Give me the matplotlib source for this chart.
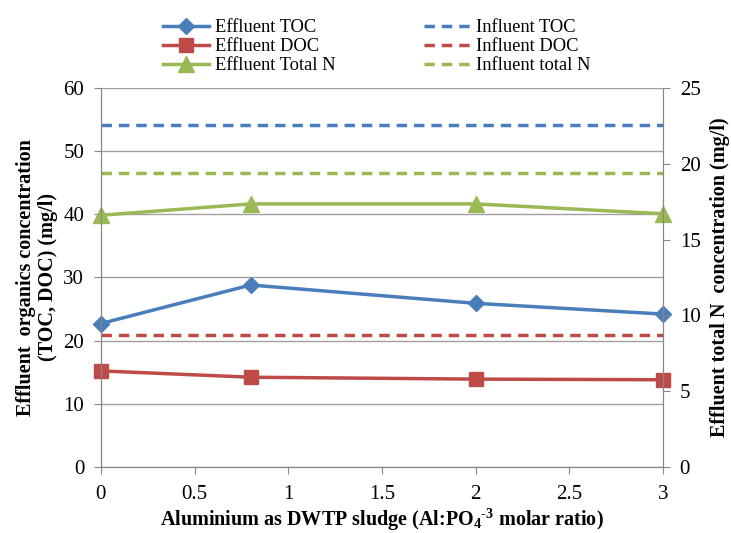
import matplotlib
matplotlib.use("Agg")
import matplotlib.pyplot as plt

# Data
ratio = [0, 0.8, 2, 3]
eff_toc = [22.7, 28.8, 25.9, 24.2]
eff_doc = [15.2, 14.2, 13.9, 13.8]
eff_tn = [16.6, 17.35, 17.35, 16.7]      # right axis
inf_toc = [54.2, 54.2, 54.2, 54.2]
inf_doc = [20.9, 20.9, 20.9, 20.9]
inf_tn = [19.4, 19.4, 19.4, 19.4]        # right axis

x_ticks = [0, 0.5, 1, 1.5, 2, 2.5, 3]
x_labels = ["0", "0.5", "1", "1.5", "2", "2.5", "3"]

blue = "#4A7EBB"
red = "#BE4B48"
green = "#98B954"
grey = "#868686"

plt.rcParams["font.family"] = ["Liberation Serif", "DejaVu Serif"]
plt.rcParams["mathtext.fontset"] = "custom"
plt.rcParams["mathtext.rm"] = "Liberation Serif:bold"
plt.rcParams["mathtext.bf"] = "Liberation Serif:bold"
plt.rcParams["mathtext.it"] = "Liberation Serif:bold"

fig = plt.figure(figsize=(7.31, 5.33), dpi=100)
ax = fig.add_axes([0.138, 0.124, 0.769, 0.711])
ax2 = ax.twinx()

h1, = ax.plot(ratio, eff_toc, color=blue, lw=2.5, marker="D", ms=8, clip_on=False, label="Effluent TOC")
h2, = ax.plot(ratio, eff_doc, color=red, lw=2.5, marker="s", ms=10, clip_on=False, label="Effluent DOC")
h3, = ax2.plot(ratio, eff_tn, color=green, lw=2.5, marker="^", ms=11, clip_on=False, label="Effluent Total N")
h4, = ax.plot(ratio, inf_toc, color=blue, lw=2.5, ls=(0, (3, 2)), label="Influent TOC")
h5, = ax.plot(ratio, inf_doc, color=red, lw=2.5, ls=(0, (3, 2)), label="Influent DOC")
h6, = ax2.plot(ratio, inf_tn, color=green, lw=2.5, ls=(0, (3, 2)), label="Influent total N")

ax.set_xlim(0, 3)
ax.set_ylim(0, 60)
ax2.set_ylim(0, 25)
ax.set_xticks(x_ticks)
ax.set_xticklabels(x_labels)
ax.set_yticks(range(0, 61, 10))
ax2.set_yticks(range(0, 26, 5))

ax.grid(axis="y", color="#a0a0a0", lw=1)
ax.set_axisbelow(True)

for a in (ax, ax2):
    a.tick_params(labelsize=15, color=grey, length=5)
    a.spines["top"].set_visible(False)
    for side in ("left", "right", "bottom"):
        a.spines[side].set_color(grey)
ax.tick_params(axis="x", pad=8)
ax.tick_params(axis="y", pad=7)
ax2.tick_params(axis="y", pad=7)

ax.set_xlabel(r"Aluminium as DWTP sludge (Al:PO$_4$$^{\text{-}3}$ molar ratio)",
              fontsize=14.5, fontweight="bold", labelpad=2)
ax.set_ylabel("Effluent  organics concentration\n(TOC, DOC) (mg/l)",
              fontsize=14.5, fontweight="bold", labelpad=4, linespacing=1.1)
ax2.set_ylabel("Effluent total N  concentration (mg/l)",
               fontsize=14.5, fontweight="bold", labelpad=7)

fig.legend(handles=[h1, h2, h3, h4, h5, h6], ncol=2, frameon=False,
           loc="upper center", bbox_to_anchor=(0.515, 0.995), fontsize=13.3,
           handlelength=2.5, columnspacing=4.8, labelspacing=0.1,
           handletextpad=0.3)

fig.savefig("out.png", dpi=100)
